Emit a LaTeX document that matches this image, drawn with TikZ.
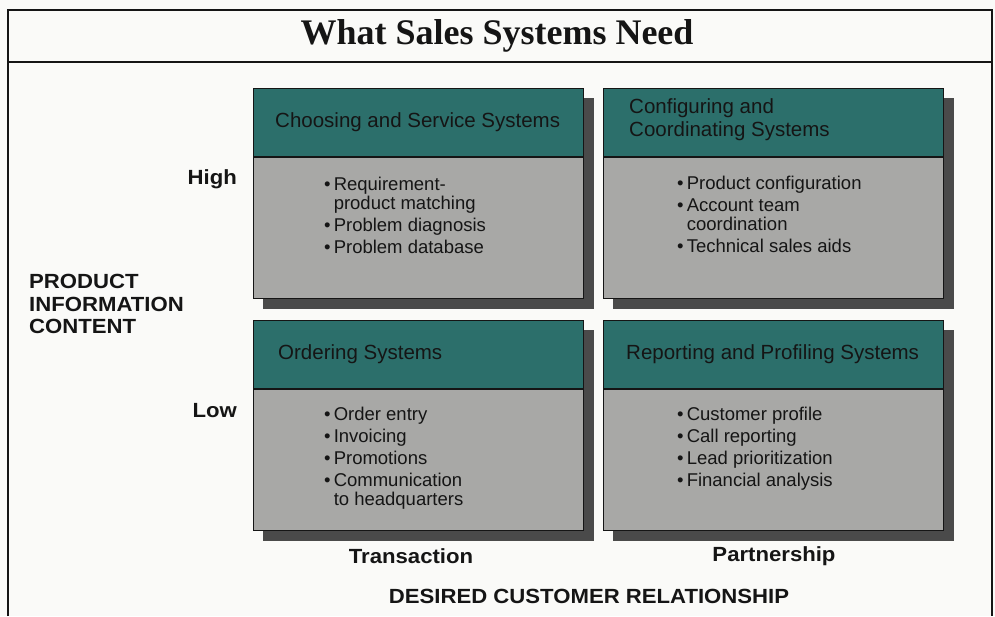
\documentclass[tikz,border=0pt]{standalone}
\usepackage{fontspec}
\setmainfont{Liberation Serif}
\setsansfont{Liberation Sans}
\newfontfamily\labelfont{Liberation Sans}[FakeStretch=1.08]
\usetikzlibrary{positioning, calc, fit, backgrounds}
\definecolor{ssTeal}{HTML}{2C6F6B}
\definecolor{ssBody}{HTML}{A8A8A6}
\definecolor{ssShadow}{HTML}{4A4A4A}
\definecolor{ssInk}{HTML}{151515}
\definecolor{ssPaper}{HTML}{FAFAF8}

\begin{document}
\begin{tikzpicture}[
    x=1pt, y=-1pt,
    head/.style={
        draw=ssInk, line width=1.2pt, fill=ssTeal, anchor=north west,
        minimum height=68pt, inner sep=0pt
    },
    body/.style={
        draw=ssInk, line width=1.2pt, fill=ssBody,
        minimum height=141pt, inner sep=0pt
    },
    boxshadow/.style={
        fill=ssShadow, inner sep=0pt, xshift=10pt, yshift=-10pt
    },
    headtext/.style={
        anchor=west, align=left, inner sep=0pt, text=ssInk,
        font=\sffamily\fontsize{20.5}{23.5}\selectfont
    },
    items/.style={
        anchor=north west, align=left, inner sep=0pt, text=ssInk,
        font=\sffamily\fontsize{18.5}{19}\selectfont
    },
    axislabel/.style={
        inner sep=0pt, text=ssInk, align=left,
        font=\labelfont\bfseries\fontsize{20.5}{22.5}\selectfont
    },
    frame/.style={draw=ssInk, line width=1.5pt}
]
\useasboundingbox (0,0) rectangle (995,616);

% Outer frame and title
\coordinate (frameBL) at (8,616);
\coordinate (frameTR) at (992,10);
\coordinate (frameBR) at (992,616);
\coordinate (sepL) at (8,62);
\coordinate (sepR) at (992,62);
\draw[frame] (frameBL) |- (frameTR) -- (frameBR);
\draw[frame] (sepL) -- (sepR);
\node[font=\rmfamily\bfseries\fontsize{36}{38}\selectfont, text=ssInk] (title) at (497,36) {What Sales Systems Need};

% Quadrant boxes
\node[head, minimum width=330pt] (choose) at (253,88) {};
\node[body, minimum width=330pt, below=0pt of choose] (chooseBody) {};
\node[head, minimum width=340pt] (config) at (603,88) {};
\node[body, minimum width=340pt, below=0pt of config] (configBody) {};
\node[head, minimum width=330pt] (order) at (253,320) {};
\node[body, minimum width=330pt, below=0pt of order] (orderBody) {};
\node[head, minimum width=340pt] (report) at (603,320) {};
\node[body, minimum width=340pt, below=0pt of report] (reportBody) {};

% Drop shadows behind the boxes
\begin{scope}[on background layer]
\fill[ssPaper] (0,0) rectangle (995,616);
\node[boxshadow, fit=(choose)(chooseBody)] (chooseShadow) {};
\node[boxshadow, fit=(config)(configBody)] (configShadow) {};
\node[boxshadow, fit=(order)(orderBody)] (orderShadow) {};
\node[boxshadow, fit=(report)(reportBody)] (reportShadow) {};
\end{scope}

% Box titles
\node[headtext] (chooseTitle) at ($(choose.west)+(22,0)$) {Choosing and Service Systems};
\node[headtext] (configTitle) at ($(config.west)+(26,-3)$) {Configuring and\\Coordinating Systems};
\node[headtext] (orderTitle) at ($(order.west)+(25,0)$) {Ordering Systems};
\node[headtext] (reportTitle) at ($(report.west)+(23,0)$) {Reporting and Profiling Systems};

% Bullet lists
\node[items] (chooseList) at ($(chooseBody.north west)+(71,20)$) {%
    \textbullet\,Requirement-\\
    \phantom{\textbullet\,}product matching\\[3pt]
    \textbullet\,Problem diagnosis\\[3pt]
    \textbullet\,Problem database};
\node[items] (configList) at ($(configBody.north west)+(74,19)$) {%
    \textbullet\,Product configuration\\[3pt]
    \textbullet\,Account team\\
    \phantom{\textbullet\,}coordination\\[3pt]
    \textbullet\,Technical sales aids};
\node[items] (orderList) at ($(orderBody.north west)+(71,18)$) {%
    \textbullet\,Order entry\\[3pt]
    \textbullet\,Invoicing\\[3pt]
    \textbullet\,Promotions\\[3pt]
    \textbullet\,Communication\\
    \phantom{\textbullet\,}to headquarters};
\node[items] (reportList) at ($(reportBody.north west)+(74,18)$) {%
    \textbullet\,Customer profile\\[3pt]
    \textbullet\,Call reporting\\[3pt]
    \textbullet\,Lead prioritization\\[3pt]
    \textbullet\,Financial analysis};

% Axis labels
\node[axislabel, anchor=east] (high) at (237,179) {High};
\node[axislabel, anchor=east] (low) at (237,411) {Low};
\node[axislabel, anchor=west] (prodInfo) at (29,304) {PRODUCT\\INFORMATION\\CONTENT};
\node[axislabel] (transaction) at (411,556) {Transaction};
\node[axislabel] (partnership) at (774,556) {Partnership};
\node[axislabel] (relation) at (589,596) {DESIRED CUSTOMER RELATIONSHIP};

\end{tikzpicture}
\end{document}
